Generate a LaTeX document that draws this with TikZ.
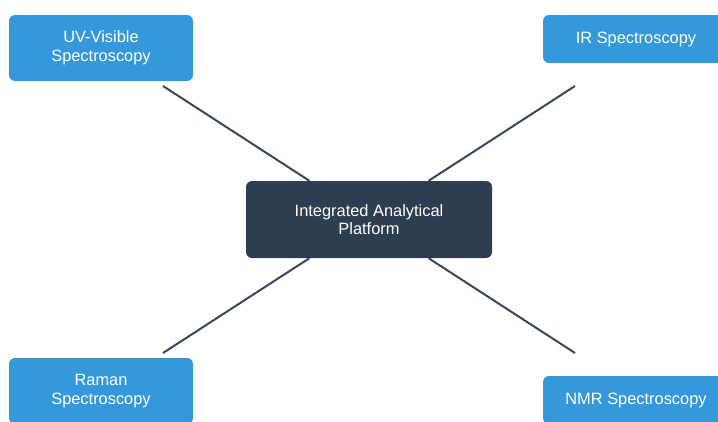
\documentclass[tikz,border=0pt]{standalone}
\usepackage{fontspec}
\setmainfont{Liberation Sans}
\definecolor{techblue}{HTML}{3498DB}
\definecolor{hubdark}{HTML}{2C3E50}
\definecolor{linkdark}{HTML}{34495E}
\tikzset{
  method/.style={fill=techblue, rounded corners=6pt, text=white, align=center,
    font=\fontsize{16.4}{18.5}\selectfont, inner sep=0pt},
  hubbox/.style={fill=hubdark, rounded corners=6pt, text=white, align=center,
    font=\fontsize{16.4}{18.5}\selectfont, inner sep=0pt},
  link/.style={draw=linkdark, line width=2pt}
}
\begin{document}
\begin{tikzpicture}[x=1pt, y=-1pt] %% spectroscopy hub
\useasboundingbox (0,0) rectangle (718,421);
\clip (0,0) rectangle (718,421);
\node[hubbox, minimum width=246pt, minimum height=77pt] (hub) at (369,219.5) {Integrated Analytical\\Platform};
\node[method, minimum width=184pt, minimum height=66pt] (uv) at (101,48) {UV-Visible\\Spectroscopy};
\node[method, minimum width=188pt, minimum height=48pt] (ir) at (637,39) {\hspace*{-2pt}IR Spectroscopy};
\node[method, minimum width=184pt, minimum height=66pt] (raman) at (101,391) {Raman\\Spectroscopy};
\node[method, minimum width=188pt, minimum height=48pt] (nmr) at (637,400) {\hspace*{-2pt}NMR Spectroscopy};
\coordinate (uvtip) at (163,86);
\coordinate (irtip) at (575,86);
\coordinate (ramantip) at (163,353);
\coordinate (nmrtip) at (575,353);
\draw[link] (hub) -- (uvtip);
\draw[link] (hub) -- (irtip);
\draw[link] (hub) -- (ramantip);
\draw[link] (hub) -- (nmrtip);
\end{tikzpicture}
\end{document}
